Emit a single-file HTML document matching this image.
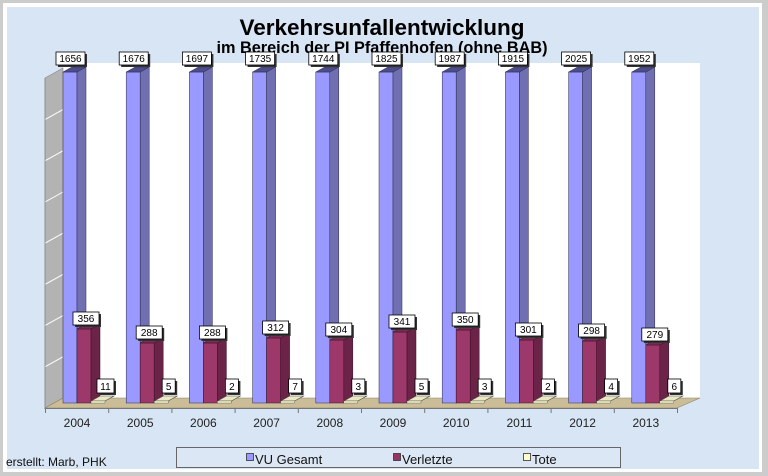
<!DOCTYPE html>
<html>
<head>
<meta charset="utf-8">
<style>
html,body{margin:0;padding:0;background:#cccccc;}
body{width:768px;height:476px;overflow:hidden;}
svg{display:block;font-family:"Liberation Sans",Arial,sans-serif;}
.bf{fill:#9999ff;stroke:#2a2a4a;stroke-width:0.5;}
.bs{fill:#6f6fb2;stroke:#2a2a4a;stroke-width:0.5;}
.bt{fill:#4d4d8c;stroke:#2a2a4a;stroke-width:0.5;}
.rf{fill:#9c386a;stroke:#3a1026;stroke-width:0.5;}
.rs{fill:#6b2447;stroke:#3a1026;stroke-width:0.5;}
.rt{fill:#7a2a54;stroke:#3a1026;stroke-width:0.5;}
.tt{fill:#ebe8c6;stroke:#444;stroke-width:0.6;}
.tf{fill:#ffffcc;stroke:#444;stroke-width:0.4;}
.sh{fill:#333;}
.bx{fill:#fff;stroke:#000;stroke-width:0.8;}
.lt{font-size:10px;fill:#000;text-anchor:middle;}
.xl{font-size:12px;fill:#222;text-anchor:middle;}
.wg{stroke:#fff;stroke-width:1;}
</style>
</head>
<body>
<svg width="768" height="476" viewBox="0 0 768 476" xmlns="http://www.w3.org/2000/svg">
  <rect x="0" y="0" width="768" height="476" fill="#cccccc"/>
  <rect x="3" y="3" width="759" height="469" fill="#ffffff"/>
  <rect x="7" y="7" width="752" height="462" fill="#d7e5f4"/>

  <!-- title -->
  <text x="382" y="35" font-size="22.5" font-weight="bold" text-anchor="middle" fill="#000">Verkehrsunfallentwicklung</text>
  <text x="382" y="53" font-size="16.3" font-weight="bold" text-anchor="middle" fill="#000">im Bereich der PI Pfaffenhofen (ohne BAB)</text>

  <!-- back wall -->
  <rect x="63" y="63" width="637" height="335" fill="#ffffff"/>
  <!-- left wall -->
  <polygon points="45,78 63,68 63,398 45,408" fill="#b3b3b3" stroke="#888" stroke-width="0.6"/>
  <line class="wg" x1="45" y1="366.8" x2="63" y2="356.8"/>
  <line class="wg" x1="45" y1="325.6" x2="63" y2="315.6"/>
  <line class="wg" x1="45" y1="284.4" x2="63" y2="274.4"/>
  <line class="wg" x1="45" y1="243.2" x2="63" y2="233.2"/>
  <line class="wg" x1="45" y1="202" x2="63" y2="192"/>
  <line class="wg" x1="45" y1="160.8" x2="63" y2="150.8"/>
  <line class="wg" x1="45" y1="119.6" x2="63" y2="109.6"/>
  <!-- floor -->
  <polygon points="45,408 63,398 700,398 677,408" fill="#cbbd97" stroke="#8a7f63" stroke-width="0.6"/>
  <line x1="45" y1="408.5" x2="677" y2="408.5" stroke="#777" stroke-width="1"/>
  <line x1="45" y1="78" x2="45" y2="409" stroke="#888" stroke-width="0.8"/>
  <g stroke="#777" stroke-width="1">
    <line x1="45.5" y1="408" x2="45.5" y2="413"/>
    <line x1="108.7" y1="408" x2="108.7" y2="413"/>
    <line x1="171.9" y1="408" x2="171.9" y2="413"/>
    <line x1="235.1" y1="408" x2="235.1" y2="413"/>
    <line x1="298.3" y1="408" x2="298.3" y2="413"/>
    <line x1="361.5" y1="408" x2="361.5" y2="413"/>
    <line x1="424.7" y1="408" x2="424.7" y2="413"/>
    <line x1="487.9" y1="408" x2="487.9" y2="413"/>
    <line x1="551.1" y1="408" x2="551.1" y2="413"/>
    <line x1="614.3" y1="408" x2="614.3" y2="413"/>
    <line x1="677.5" y1="408" x2="677.5" y2="413"/>
  </g>

  <!-- 2004 -->
  <g transform="translate(45,0)">
    <rect class="bf" x="18" y="72" width="14" height="331"/>
    <polygon class="bs" points="32,72 41,67 41,398 32,403"/>
    <polygon class="bt" points="18,72 27,67 41,67 32,72"/>
    <rect class="rf" x="32" y="329" width="14" height="74"/>
    <polygon class="rs" points="46,329 55,324 55,398 46,403"/>
    <polygon class="rt" points="32,329 41,324 55,324 46,329"/>
    <polygon class="tt" points="46,401 55,396 69,396 60,401"/>
    <rect class="tf" x="46" y="401" width="14" height="2"/>
    <rect class="sh" x="13" y="54" width="29" height="13"/><rect class="bx" x="11" y="52" width="29" height="13"/><text class="lt" x="25.5" y="62">1656</text>
    <rect class="sh" x="30" y="314" width="26" height="13"/><rect class="bx" x="28" y="312" width="26" height="13"/><text class="lt" x="41" y="322">356</text>
    <rect class="sh" x="54" y="381" width="17" height="14"/><rect class="bx" x="52" y="379" width="17" height="14"/><text class="lt" x="60.5" y="390">11</text>
    <text class="xl" x="32" y="427">2004</text>
  </g>

  <!-- 2005 -->
  <g transform="translate(108.2,0)">
    <rect class="bf" x="18" y="72" width="14" height="331"/>
    <polygon class="bs" points="32,72 41,67 41,398 32,403"/>
    <polygon class="bt" points="18,72 27,67 41,67 32,72"/>
    <rect class="rf" x="32" y="343" width="14" height="60"/>
    <polygon class="rs" points="46,343 55,338 55,398 46,403"/>
    <polygon class="rt" points="32,343 41,338 55,338 46,343"/>
    <polygon class="tt" points="46,401 55,396 69,396 60,401"/>
    <rect class="tf" x="46" y="401" width="14" height="2"/>
    <rect class="sh" x="13" y="54" width="29" height="13"/><rect class="bx" x="11" y="52" width="29" height="13"/><text class="lt" x="25.5" y="62">1676</text>
    <rect class="sh" x="30" y="328" width="26" height="13"/><rect class="bx" x="28" y="326" width="26" height="13"/><text class="lt" x="41" y="336">288</text>
    <rect class="sh" x="56" y="381" width="13" height="14"/><rect class="bx" x="54" y="379" width="13" height="14"/><text class="lt" x="60.5" y="390">5</text>
    <text class="xl" x="32" y="427">2005</text>
  </g>

  <!-- 2006 -->
  <g transform="translate(171.4,0)">
    <rect class="bf" x="18" y="72" width="14" height="331"/>
    <polygon class="bs" points="32,72 41,67 41,398 32,403"/>
    <polygon class="bt" points="18,72 27,67 41,67 32,72"/>
    <rect class="rf" x="32" y="343" width="14" height="60"/>
    <polygon class="rs" points="46,343 55,338 55,398 46,403"/>
    <polygon class="rt" points="32,343 41,338 55,338 46,343"/>
    <polygon class="tt" points="46,401 55,396 69,396 60,401"/>
    <rect class="tf" x="46" y="401" width="14" height="2"/>
    <rect class="sh" x="13" y="54" width="29" height="13"/><rect class="bx" x="11" y="52" width="29" height="13"/><text class="lt" x="25.5" y="62">1697</text>
    <rect class="sh" x="30" y="328" width="26" height="13"/><rect class="bx" x="28" y="326" width="26" height="13"/><text class="lt" x="41" y="336">288</text>
    <rect class="sh" x="56" y="381" width="13" height="14"/><rect class="bx" x="54" y="379" width="13" height="14"/><text class="lt" x="60.5" y="390">2</text>
    <text class="xl" x="32" y="427">2006</text>
  </g>

  <!-- 2007 -->
  <g transform="translate(234.6,0)">
    <rect class="bf" x="18" y="72" width="14" height="331"/>
    <polygon class="bs" points="32,72 41,67 41,398 32,403"/>
    <polygon class="bt" points="18,72 27,67 41,67 32,72"/>
    <rect class="rf" x="32" y="338" width="14" height="65"/>
    <polygon class="rs" points="46,338 55,333 55,398 46,403"/>
    <polygon class="rt" points="32,338 41,333 55,333 46,338"/>
    <polygon class="tt" points="46,401 55,396 69,396 60,401"/>
    <rect class="tf" x="46" y="401" width="14" height="2"/>
    <rect class="sh" x="13" y="54" width="29" height="13"/><rect class="bx" x="11" y="52" width="29" height="13"/><text class="lt" x="25.5" y="62">1735</text>
    <rect class="sh" x="30" y="323" width="26" height="13"/><rect class="bx" x="28" y="321" width="26" height="13"/><text class="lt" x="41" y="331">312</text>
    <rect class="sh" x="56" y="381" width="13" height="14"/><rect class="bx" x="54" y="379" width="13" height="14"/><text class="lt" x="60.5" y="390">7</text>
    <text class="xl" x="32" y="427">2007</text>
  </g>

  <!-- 2008 -->
  <g transform="translate(297.8,0)">
    <rect class="bf" x="18" y="72" width="14" height="331"/>
    <polygon class="bs" points="32,72 41,67 41,398 32,403"/>
    <polygon class="bt" points="18,72 27,67 41,67 32,72"/>
    <rect class="rf" x="32" y="340" width="14" height="63"/>
    <polygon class="rs" points="46,340 55,335 55,398 46,403"/>
    <polygon class="rt" points="32,340 41,335 55,335 46,340"/>
    <polygon class="tt" points="46,401 55,396 69,396 60,401"/>
    <rect class="tf" x="46" y="401" width="14" height="2"/>
    <rect class="sh" x="13" y="54" width="29" height="13"/><rect class="bx" x="11" y="52" width="29" height="13"/><text class="lt" x="25.5" y="62">1744</text>
    <rect class="sh" x="30" y="325" width="26" height="13"/><rect class="bx" x="28" y="323" width="26" height="13"/><text class="lt" x="41" y="333">304</text>
    <rect class="sh" x="56" y="381" width="13" height="14"/><rect class="bx" x="54" y="379" width="13" height="14"/><text class="lt" x="60.5" y="390">3</text>
    <text class="xl" x="32" y="427">2008</text>
  </g>

  <!-- 2009 -->
  <g transform="translate(361,0)">
    <rect class="bf" x="18" y="72" width="14" height="331"/>
    <polygon class="bs" points="32,72 41,67 41,398 32,403"/>
    <polygon class="bt" points="18,72 27,67 41,67 32,72"/>
    <rect class="rf" x="32" y="332" width="14" height="71"/>
    <polygon class="rs" points="46,332 55,327 55,398 46,403"/>
    <polygon class="rt" points="32,332 41,327 55,327 46,332"/>
    <polygon class="tt" points="46,401 55,396 69,396 60,401"/>
    <rect class="tf" x="46" y="401" width="14" height="2"/>
    <rect class="sh" x="13" y="54" width="29" height="13"/><rect class="bx" x="11" y="52" width="29" height="13"/><text class="lt" x="25.5" y="62">1825</text>
    <rect class="sh" x="30" y="317" width="26" height="13"/><rect class="bx" x="28" y="315" width="26" height="13"/><text class="lt" x="41" y="325">341</text>
    <rect class="sh" x="56" y="381" width="13" height="14"/><rect class="bx" x="54" y="379" width="13" height="14"/><text class="lt" x="60.5" y="390">5</text>
    <text class="xl" x="32" y="427">2009</text>
  </g>

  <!-- 2010 -->
  <g transform="translate(424.2,0)">
    <rect class="bf" x="18" y="72" width="14" height="331"/>
    <polygon class="bs" points="32,72 41,67 41,398 32,403"/>
    <polygon class="bt" points="18,72 27,67 41,67 32,72"/>
    <rect class="rf" x="32" y="330" width="14" height="73"/>
    <polygon class="rs" points="46,330 55,325 55,398 46,403"/>
    <polygon class="rt" points="32,330 41,325 55,325 46,330"/>
    <polygon class="tt" points="46,401 55,396 69,396 60,401"/>
    <rect class="tf" x="46" y="401" width="14" height="2"/>
    <rect class="sh" x="13" y="54" width="29" height="13"/><rect class="bx" x="11" y="52" width="29" height="13"/><text class="lt" x="25.5" y="62">1987</text>
    <rect class="sh" x="30" y="315" width="26" height="13"/><rect class="bx" x="28" y="313" width="26" height="13"/><text class="lt" x="41" y="323">350</text>
    <rect class="sh" x="56" y="381" width="13" height="14"/><rect class="bx" x="54" y="379" width="13" height="14"/><text class="lt" x="60.5" y="390">3</text>
    <text class="xl" x="32" y="427">2010</text>
  </g>

  <!-- 2011 -->
  <g transform="translate(487.4,0)">
    <rect class="bf" x="18" y="72" width="14" height="331"/>
    <polygon class="bs" points="32,72 41,67 41,398 32,403"/>
    <polygon class="bt" points="18,72 27,67 41,67 32,72"/>
    <rect class="rf" x="32" y="340" width="14" height="63"/>
    <polygon class="rs" points="46,340 55,335 55,398 46,403"/>
    <polygon class="rt" points="32,340 41,335 55,335 46,340"/>
    <polygon class="tt" points="46,401 55,396 69,396 60,401"/>
    <rect class="tf" x="46" y="401" width="14" height="2"/>
    <rect class="sh" x="13" y="54" width="29" height="13"/><rect class="bx" x="11" y="52" width="29" height="13"/><text class="lt" x="25.5" y="62">1915</text>
    <rect class="sh" x="30" y="325" width="26" height="13"/><rect class="bx" x="28" y="323" width="26" height="13"/><text class="lt" x="41" y="333">301</text>
    <rect class="sh" x="56" y="381" width="13" height="14"/><rect class="bx" x="54" y="379" width="13" height="14"/><text class="lt" x="60.5" y="390">2</text>
    <text class="xl" x="32" y="427">2011</text>
  </g>

  <!-- 2012 -->
  <g transform="translate(550.6,0)">
    <rect class="bf" x="18" y="72" width="14" height="331"/>
    <polygon class="bs" points="32,72 41,67 41,398 32,403"/>
    <polygon class="bt" points="18,72 27,67 41,67 32,72"/>
    <rect class="rf" x="32" y="341" width="14" height="62"/>
    <polygon class="rs" points="46,341 55,336 55,398 46,403"/>
    <polygon class="rt" points="32,341 41,336 55,336 46,341"/>
    <polygon class="tt" points="46,401 55,396 69,396 60,401"/>
    <rect class="tf" x="46" y="401" width="14" height="2"/>
    <rect class="sh" x="13" y="54" width="29" height="13"/><rect class="bx" x="11" y="52" width="29" height="13"/><text class="lt" x="25.5" y="62">2025</text>
    <rect class="sh" x="30" y="326" width="26" height="13"/><rect class="bx" x="28" y="324" width="26" height="13"/><text class="lt" x="41" y="334">298</text>
    <rect class="sh" x="56" y="381" width="13" height="14"/><rect class="bx" x="54" y="379" width="13" height="14"/><text class="lt" x="60.5" y="390">4</text>
    <text class="xl" x="32" y="427">2012</text>
  </g>

  <!-- 2013 -->
  <g transform="translate(613.8,0)">
    <rect class="bf" x="18" y="72" width="14" height="331"/>
    <polygon class="bs" points="32,72 41,67 41,398 32,403"/>
    <polygon class="bt" points="18,72 27,67 41,67 32,72"/>
    <rect class="rf" x="32" y="345" width="14" height="58"/>
    <polygon class="rs" points="46,345 55,340 55,398 46,403"/>
    <polygon class="rt" points="32,345 41,340 55,340 46,345"/>
    <polygon class="tt" points="46,401 55,396 69,396 60,401"/>
    <rect class="tf" x="46" y="401" width="14" height="2"/>
    <rect class="sh" x="13" y="54" width="29" height="13"/><rect class="bx" x="11" y="52" width="29" height="13"/><text class="lt" x="25.5" y="62">1952</text>
    <rect class="sh" x="30" y="330" width="26" height="13"/><rect class="bx" x="28" y="328" width="26" height="13"/><text class="lt" x="41" y="338">279</text>
    <rect class="sh" x="56" y="381" width="13" height="14"/><rect class="bx" x="54" y="379" width="13" height="14"/><text class="lt" x="60.5" y="390">6</text>
    <text class="xl" x="32" y="427">2013</text>
  </g>

  <!-- legend -->
  <rect x="176.5" y="447.5" width="444" height="20" fill="#dbe7f5" stroke="#666" stroke-width="1"/>
  <rect x="246.5" y="453.5" width="7" height="7" fill="#9999ff" stroke="#333" stroke-width="0.8"/>
  <text x="255" y="464" font-size="13" fill="#111">VU Gesamt</text>
  <rect x="393.5" y="453.5" width="7" height="7" fill="#993366" stroke="#333" stroke-width="0.8"/>
  <text x="402" y="464" font-size="13" fill="#111">Verletzte</text>
  <rect x="523.5" y="453.5" width="7" height="7" fill="#ffffcc" stroke="#333" stroke-width="0.8"/>
  <text x="532" y="464" font-size="13" fill="#111">Tote</text>

  <!-- footer -->
  <text x="6" y="466" font-size="12" fill="#111">erstellt: Marb, PHK</text>
</svg>
</body>
</html>
